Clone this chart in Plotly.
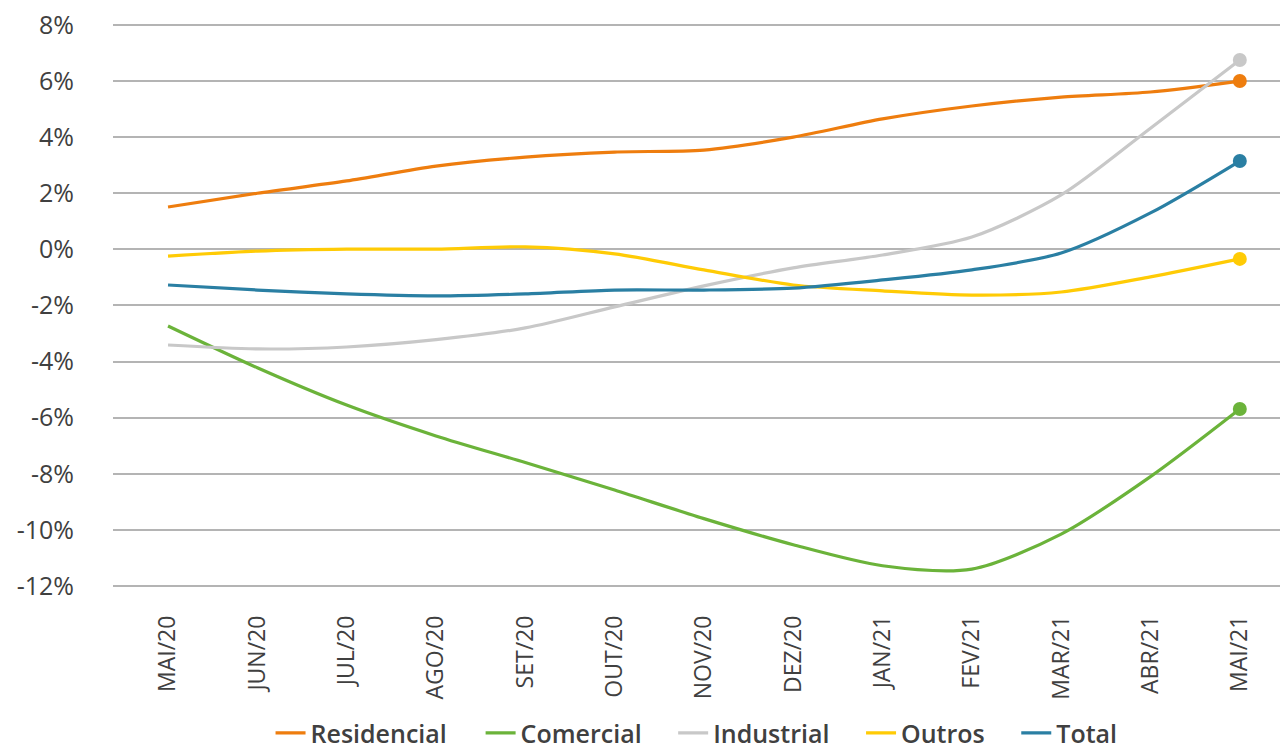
import plotly.graph_objects as go

months = ["MAI/20", "JUN/20", "JUL/20", "AGO/20", "SET/20", "OUT/20", "NOV/20",
          "DEZ/20", "JAN/21", "FEV/21", "MAR/21", "ABR/21", "MAI/21"]

residencial = [1.51, 2.00, 2.44, 2.97, 3.29, 3.47, 3.54, 4.00, 4.65, 5.11, 5.43, 5.61, 6.00]
comercial = [-2.73, -4.22, -5.55, -6.65, -7.60, -8.58, -9.60, -10.53, -11.28, -11.40, -10.15, -8.10, -5.69]
industrial = [-3.41, -3.55, -3.48, -3.22, -2.80, -2.05, -1.30, -0.66, -0.20, 0.44, 1.94, 4.32, 6.75]
outros = [-0.24, -0.06, 0.01, 0.01, 0.09, -0.16, -0.73, -1.27, -1.48, -1.63, -1.52, -0.98, -0.34]
total = [-1.27, -1.45, -1.59, -1.66, -1.59, -1.45, -1.45, -1.38, -1.09, -0.73, -0.13, 1.30, 3.15]

y_ticks = [8, 6, 4, 2, 0, -2, -4, -6, -8, -10, -12]
y_tick_labels = ["8%", "6%", "4%", "2%", "0%", "-2%", "-4%", "-6%", "-8%", "-10%", "-12%"]

series = [
    ("Residencial", residencial, "#EE7D0E"),
    ("Comercial", comercial, "#6BB33A"),
    ("Industrial", industrial, "#C8C8C8"),
    ("Outros", outros, "#FFCB05"),
    ("Total", total, "#2A7FA3"),
]

# horizontal placement of each legend entry (paper fraction)
legend_x = [0.135, 0.315, 0.480, 0.641, 0.774]

xs = list(range(len(months)))

fig = go.Figure()
legend_ids = ["legend", "legend2", "legend3", "legend4", "legend5"]
for (name, vals, color), lid in zip(series, legend_ids):
    fig.add_trace(go.Scatter(
        x=xs, y=vals, name=name, mode="lines", legend=lid,
        line=dict(color=color, width=3.2, shape="spline", smoothing=0.8),
        hoverinfo="skip",
    ))
for name, vals, color in series:
    fig.add_trace(go.Scatter(
        x=[xs[-1]], y=[vals[-1]], mode="markers", showlegend=False,
        marker=dict(color=color, size=14),
        hoverinfo="skip",
    ))

legend_style = dict(
    orientation="h", xanchor="left", yref="paper", y=-0.222, yanchor="middle",
    font=dict(size=25, color="#404040", family="Open Sans", weight=600),
    itemwidth=30, bgcolor="rgba(0,0,0,0)",
)
layout_legends = {lid: dict(x=lx, **legend_style) for lid, lx in zip(legend_ids, legend_x)}

fig.update_layout(
    width=1280, height=749,
    margin=dict(l=113, r=0, t=0, b=149, autoexpand=False),
    paper_bgcolor="white", plot_bgcolor="rgba(0,0,0,0)",
    font=dict(family="Open Sans", color="#404040"),
    showlegend=True,
    **layout_legends,
)
fig.update_xaxes(
    range=[-0.616, 12.45], tickmode="array", tickvals=xs, ticktext=months,
    tickangle=-90, showgrid=False, zeroline=False, showline=False, ticks="",
    tickfont=dict(size=23, color="#404040"), ticklabelstandoff=10,
)
fig.update_yaxes(
    range=[-12.5, 8.89], tickmode="array", tickvals=y_ticks, ticktext=y_tick_labels,
    showgrid=True, gridcolor="#B4B4B4", gridwidth=1.5, zeroline=False, showline=False,
    ticks="", tickfont=dict(size=25, color="#404040"), ticklabelstandoff=38,
)

fig.write_html("out.html")
